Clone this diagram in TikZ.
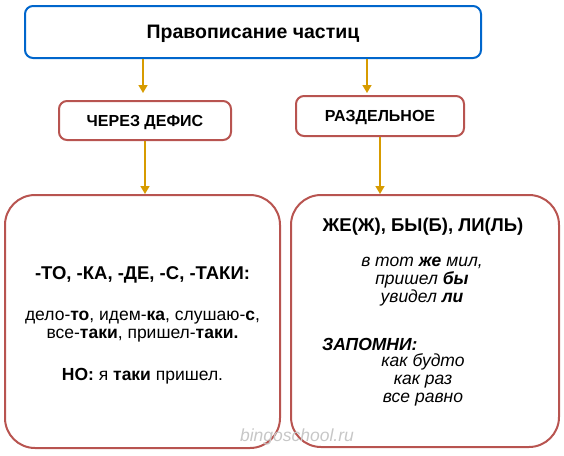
\documentclass[tikz,border=0pt]{standalone}
\usepackage{fontspec}
\setmainfont{Liberation Sans}
\usetikzlibrary{arrows.meta}
\definecolor{boxblue}{HTML}{0066CC}
\definecolor{boxred}{HTML}{B85450}
\definecolor{arrorange}{HTML}{D79B00}
\begin{document}
\begin{tikzpicture}[x=1pt,y=-1pt,
    head/.style = {draw=boxblue, line width=2pt, rounded corners=8pt, minimum width=456pt, minimum height=52pt, text depth=0pt, font=\bfseries\fontsize{19.5}{22}\selectfont},
    branch/.style = {draw=boxred, line width=2pt, rounded corners=8pt, minimum height=39pt, text depth=0pt, font=\bfseries\fontsize{16}{19}\selectfont},
    panel/.style = {draw=boxred, line width=2pt, rounded corners=30pt},
    txt/.style = {font=\fontsize{17.5}{18}\selectfont, align=center, inner sep=0pt},
    link/.style = {draw=arrorange, line width=1.5pt, -{Triangle[length=8pt,width=9pt]}}]
  \useasboundingbox (0,0) rectangle (564,455);

  \node[head](top) at (253,32){Правописание частиц};
  \node[branch, minimum width=172pt](cherez) at (145,120.5){ЧЕРЕЗ ДЕФИС};
  \node[branch, minimum width=168pt, minimum height=40pt](razd) at (380,116){РАЗДЕЛЬНОЕ};
  \node[panel, minimum width=275pt, minimum height=253pt](left) at (142.5,321.5){};
  \node[panel, minimum width=268pt, minimum height=252pt](right) at (425,321){};

  % left panel
  \node[txt, font=\bfseries\fontsize{18.5}{18}\selectfont](tl1) at (142.5,275){-ТО, -КА, -ДЕ, -С, -ТАКИ:};
  \node[txt](tl2) at (142.5,327){дело-\textbf{то}, идем-\textbf{ка}, слушаю-\textbf{с},\\все-\textbf{таки}, пришел-\textbf{таки.}};
  \node[txt](tl3) at (142.5,376){\textbf{НО:} я \textbf{таки} пришел.};

  % right panel
  \node[txt, font=\bfseries\fontsize{18.5}{19}\selectfont](tr1) at (423,227){ЖЕ(Ж), БЫ(Б), ЛИ(ЛЬ)};
  \node[txt, font=\itshape\fontsize{17.5}{18}\selectfont](tr2) at (422,282){в тот \textbf{же} мил,\\пришел \textbf{бы}\\увидел \textbf{ли}};
  \node[txt, anchor=west, font=\bfseries\itshape\fontsize{17.5}{18}\selectfont](tr3) at (322,344){ЗАПОМНИ:};
  \node[txt, font=\itshape\fontsize{17.5}{18}\selectfont](tr4) at (423,380){как будто\\как раз\\все равно};

  \node[txt, text=black!22, font=\itshape\fontsize{17.5}{18}\selectfont](mark) at (297,437){bingoschool.ru};

  \draw[link] ([xshift=-2pt]cherez.north |- top.south) -- ([xshift=-2pt,yshift=7pt]cherez.north);
  \draw[link] ([xshift=-13pt]razd.north |- top.south) -- ([xshift=-13pt,yshift=2pt]razd.north);
  \draw[link] (cherez.south) -- (cherez.south |- left.north);
  \draw[link] (razd.south) -- (razd.south |- right.north);
\end{tikzpicture}
\end{document}
